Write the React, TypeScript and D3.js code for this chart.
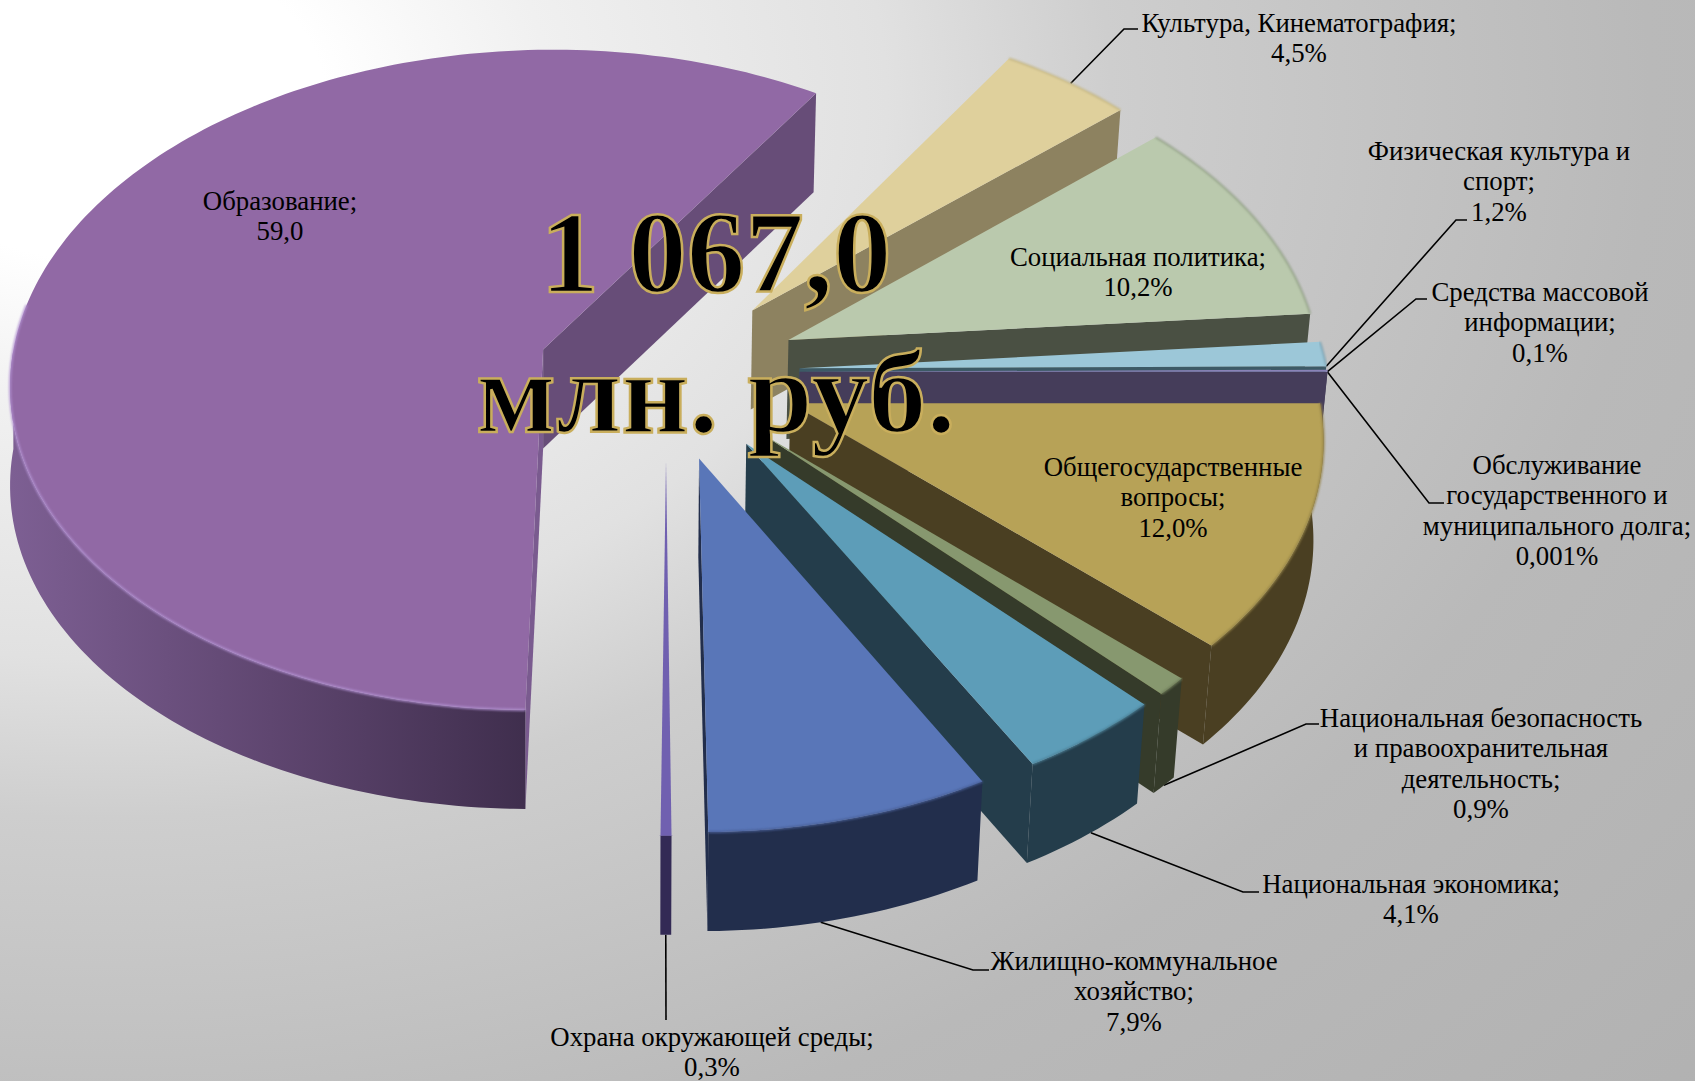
import React from 'react'
import * as d3 from 'd3'

// sectors in pie order, clockwise from 3 o'clock
const SECTORS = ['Общегосударственные вопросы', 'Безопасность', 'Экономика', 'ЖКХ', 'Экология', 'Образование', 'Культура', 'Соцполитика', 'Спорт', 'СМИ', 'Долг']
const VALUES = [12.0, 0.9, 4.1, 7.9, 0.3, 59.0, 4.5, 10.2, 1.2, 0.1, 0.001]
const TOP_COLORS = ['#b7a257', '#87986f', '#5d9db8', '#5976b8', '#7060b0', '#9169a5', '#dfd09c', '#bac9ad', '#9cc7d8', '#8a83b8', '#8a83b8']
const SIDE_COLORS = ['#4a3f22', '#353b2a', '#243d4b', '#222e4c', '#332a55', '#674d78', '#8d8260', '#4a5043', '#3d5a66', '#453d5a', '#453d5a']
const LABELS = [
  ['Общегосударственные', 'вопросы;', '12,0%'],
  ['Национальная безопасность', 'и правоохранительная', 'деятельность;', '0,9%'],
  ['Национальная экономика;', '4,1%'],
  ['Жилищно-коммунальное', 'хозяйство;', '7,9%'],
  ['Охрана окружающей среды;', '0,3%'],
  ['Образование;', '59,0'],
  ['Культура, Кинематография;', '4,5%'],
  ['Социальная политика;', '10,2%'],
  ['Физическая культура и', 'спорт;', '1,2%'],
  ['Средства массовой', 'информации;', '0,1%'],
  ['Обслуживание', 'государственного и', 'муниципального долга;', '0,001%'],
]
const TOTAL_LINES = ['1 067,0', 'млн. руб.']

// per-slice pull-out, radius and pixel nudge, tuned by eye against the 3d look
const EXPLOSION = [0.26, 0.27, 0.27, 0.27, 0.27, 0.245, 0.255, 0.255, 0.26, 0.26, 0.26]
const RADIUS = [1.01, 1, 1, 1, 1, 1.025, 1.03, 1.025, 1.015, 1.015, 1.015]
const NUDGE_X = [-1, -3, -3, -2, 1.5, 0, 3, 3, 0, 0, 0]

// label anchor: centre x, first baseline
const LABEL_POS: [number, number][] = [
  [1173, 476], [1481, 727], [1411, 893], [1134, 970], [712, 1046], [280, 210],
  [1299, 32], [1138, 266], [1499, 160], [1540, 301], [1557, 474],
]
// leader lines: index, position along the rim (0..1), on wall bottom?, elbow, end
const LEADERS: { i: number; t: number; low: boolean; elbow: [number, number]; end: [number, number] }[] = [
  { i: 6, t: 0.53, low: false, elbow: [1124, 29], end: [1138, 29] },
  { i: 8, t: 1, low: false, elbow: [1456, 220], end: [1467, 220] },
  { i: 9, t: 1, low: false, elbow: [1416, 299], end: [1427, 299] },
  { i: 10, t: 1, low: false, elbow: [1429, 503], end: [1444, 503] },
  { i: 1, t: 0.5, low: true, elbow: [1306, 724], end: [1319, 724] },
  { i: 2, t: 0.45, low: true, elbow: [1243, 892], end: [1259, 892] },
  { i: 3, t: 0.6, low: true, elbow: [973, 970], end: [989, 970] },
  { i: 4, t: 0.5, low: true, elbow: [666, 1020], end: [666, 1020] },
]

const W = 1695
const H = 1081
const CX = 664.5
const CY = 372
const SCALE_X = 520
const SCALE_Y = 323.4
const PERSP = 0.09
const WALL = 99
const VANISH_X = 650
const WALL_SQUEEZE = 0.985

const project = (x: number, y: number): [number, number] => {
  const f = 1 / (1 - PERSP * y)
  return [CX + x * SCALE_X * f, CY + y * SCALE_Y * f]
}
// walls on the right converge slightly towards the bottom
const lower = (p: [number, number], amount: number): [number, number] => {
  if (p[0] <= VANISH_X) return [p[0], p[1] + amount]
  const k = 1 - (1 - WALL_SQUEEZE) * (amount / WALL)
  return [VANISH_X + (p[0] - VANISH_X) * k, p[1] + amount]
}

const pieGen = d3.pie<number>().sort(null).startAngle(Math.PI / 2).endAngle(Math.PI * 2.5)
const arcs = pieGen(VALUES).map((d, i) => {
  const mid = (d.startAngle + d.endAngle) / 2
  return {
    i, start: d.startAngle, end: d.endAngle, mid, r: RADIUS[i],
    ox: EXPLOSION[i] * Math.sin(mid), oy: -EXPLOSION[i] * Math.cos(mid),
  }
})
type Slice = (typeof arcs)[number]

const nudged = (s: Slice, p: [number, number]): [number, number] => [p[0] + NUDGE_X[s.i], p[1]]
const rimPoint = (s: Slice, a: number, drop = 0): [number, number] =>
  lower(nudged(s, project(s.ox + s.r * Math.sin(a), s.oy - s.r * Math.cos(a))), drop)
const apex = (s: Slice, drop = 0): [number, number] => lower(nudged(s, project(s.ox, s.oy)), drop)
const rimAngles = (s: Slice) => {
  const n = Math.max(2, Math.ceil((s.end - s.start) / 0.02))
  return d3.range(n + 1).map(k => s.start + ((s.end - s.start) * k) / n)
}

const closed = d3.line().curve(d3.curveLinearClosed)
const open = d3.line()

const topPath = (s: Slice) => closed([apex(s), ...rimAngles(s).map(a => rimPoint(s, a))]) as string
const rimPath = (s: Slice) => {
  // the education slice only catches light on its near edge
  const angles = s.i === 5 ? rimAngles(s).filter(a => -Math.cos(a) > -0.15) : rimAngles(s)
  return open(angles.map(a => rimPoint(s, a))) as string
}
const radialWall = (s: Slice, a: number) =>
  closed([apex(s), rimPoint(s, a), rimPoint(s, a, WALL), apex(s, WALL)]) as string
// only the part of the rim that faces the viewer
const outerWall = (s: Slice) => {
  const angles = rimAngles(s).filter(a => -Math.cos(a) >= -1e-6)
  if (angles.length < 2) return null
  return closed([...angles.map(a => rimPoint(s, a)), ...angles.slice().reverse().map(a => rimPoint(s, a, WALL))]) as string
}

// back to front
const drawOrder = arcs.slice().sort((a, b) => d3.ascending(-Math.cos(a.mid), -Math.cos(b.mid)))

export default function App() {
  return (
    <svg width={W} height={H} style={{ position: 'absolute', left: 0, top: 0, display: 'block' }}
      fontFamily="'Liberation Serif', 'Times New Roman', serif">
      <defs>
        <radialGradient id="bg" gradientUnits="userSpaceOnUse" cx={0} cy={0} r={1.45}
          gradientTransform="translate(100 100) scale(1550 1100)">
          <stop offset="0" stopColor="#ffffff" />
          <stop offset="0.1" stopColor="#ffffff" />
          <stop offset="0.2" stopColor="#f0f0f0" />
          <stop offset="0.35" stopColor="#e1e1e1" />
          <stop offset="0.45" stopColor="#cecece" />
          <stop offset="0.69" stopColor="#b9b9b9" />
          <stop offset="1" stopColor="#b0b0b0" />
        </radialGradient>
        <linearGradient id="eduWall" gradientUnits="userSpaceOnUse" x1={11} x2={530} y1={0} y2={0}>
          <stop offset="0" stopColor="#7d5f93" />
          <stop offset="0.5" stopColor="#5f4670" />
          <stop offset="1" stopColor="#3f2e4d" />
        </linearGradient>
        <filter id="soft" x="-5%" y="-5%" width="110%" height="110%">
          <feGaussianBlur stdDeviation="0.8" />
        </filter>
      </defs>
      <rect width={W} height={H} fill="url(#bg)" />

      {LEADERS.map(l => {
        const s = arcs[l.i]
        const a = s.start + (s.end - s.start) * l.t
        const p = rimPoint(s, a, l.low ? WALL : 0)
        return <path key={l.i} d={open([p, l.elbow, l.end]) as string} fill="none" stroke="#000" strokeWidth={1.6} />
      })}

      {drawOrder.map(s => {
        const wall = outerWall(s)
        const rimColor = s.i === 5 ? '#b08fd0' : d3.interpolateRgb(TOP_COLORS[s.i], SIDE_COLORS[s.i])(0.3)
        return (
          <g key={SECTORS[s.i]}>
            {Math.sin(s.start) < 0 && <path d={radialWall(s, s.start)} fill={s.i === 5 ? '#7a5b8f' : SIDE_COLORS[s.i]} />}
            {Math.sin(s.end) > 0 && <path d={radialWall(s, s.end)} fill={SIDE_COLORS[s.i]} />}
            {wall && <path d={wall} fill={s.i === 5 ? 'url(#eduWall)' : SIDE_COLORS[s.i]} />}
            <path d={topPath(s)} fill={TOP_COLORS[s.i]} />
            <path d={rimPath(s)} fill="none" stroke={rimColor} strokeWidth={2} filter="url(#soft)" />
          </g>
        )
      })}

      {LABELS.map((lines, i) => (
        <text key={i} x={LABEL_POS[i][0]} y={LABEL_POS[i][1]} textAnchor="middle" fontSize={26.8} fill="#000">
          {lines.map((t, k) => (
            <tspan key={k} x={LABEL_POS[i][0]} dy={k === 0 ? 0 : 30.3}>{t}</tspan>
          ))}
        </text>
      ))}

      {TOTAL_LINES.map((t, k) => (
        <text key={t} x={716} y={292 + k * 140} textAnchor="middle" fontSize={117} fontWeight="bold"
          fill="#000" stroke="#c9ae5c" strokeWidth={2.5}>
          {t}
        </text>
      ))}
    </svg>
  )
}
